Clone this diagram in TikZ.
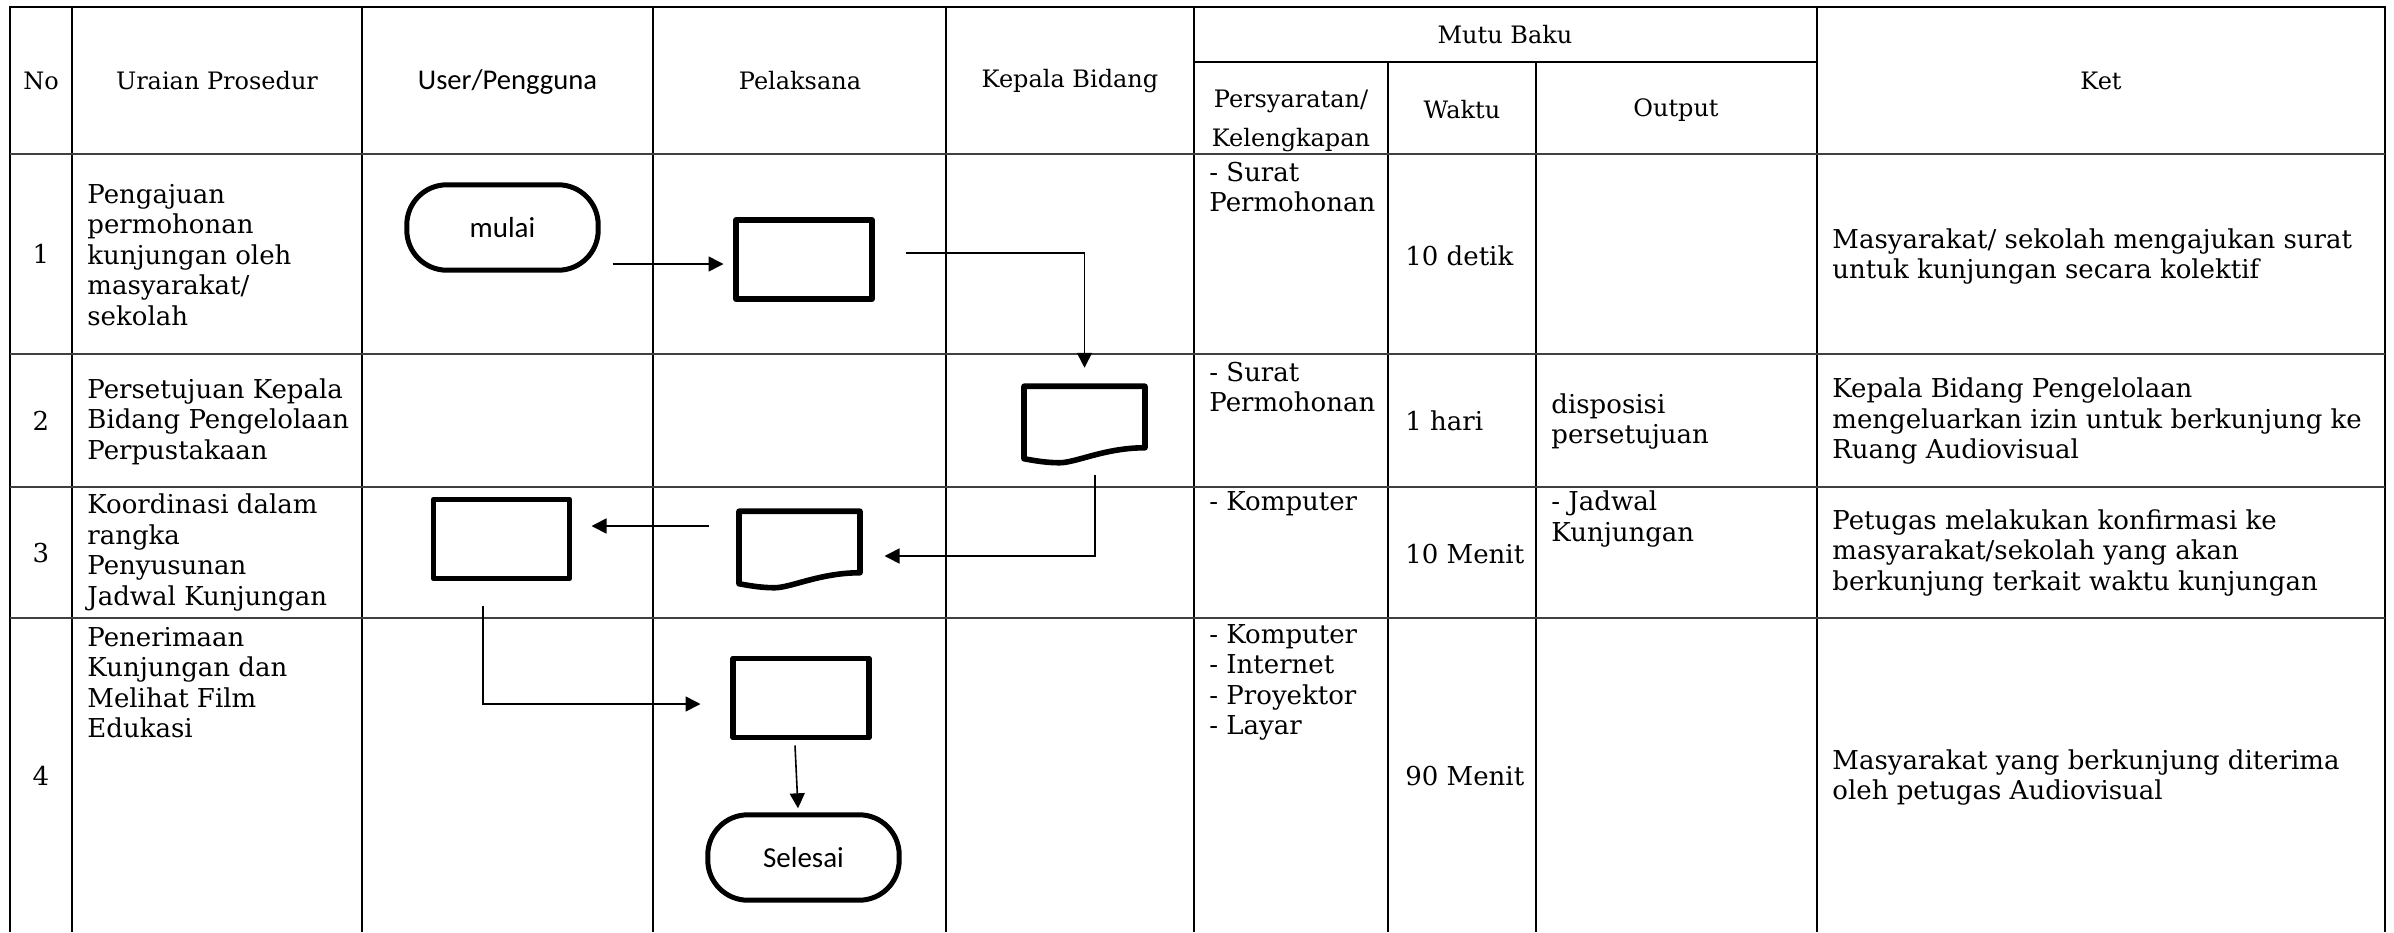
\documentclass[tikz,border=0pt]{standalone}
\usepackage{fontspec}
\setmainfont{DejaVu Serif}
\newfontfamily\flowfont{Carlito}
\usepackage{tikz}
\usetikzlibrary{positioning,arrows.meta}

% document symbol drawn round an empty node
\newcommand{\docshape}[1]{%
  \draw[line width=2.8pt, line join=round] (#1.north west) -- (#1.north east) -- (#1.south east)
    .. controls ([xshift=-20pt]#1.south east) and ([xshift=26pt,yshift=-7.5pt]#1.south west) .. ([xshift=17.75pt,yshift=-7.5pt]#1.south west)
    .. controls ([xshift=10pt,yshift=-7.5pt]#1.south west) and ([xshift=3pt,yshift=-6pt]#1.south west) .. ([yshift=-5.5pt]#1.south west) -- cycle;}

\begin{document}
\begin{tikzpicture}[x=0.5pt, y=-0.5pt,
    grid/.style={line width=0.75pt},
    rowline/.style={line width=1.3pt, black!75},
    head/.style={font=\fontsize{12}{14}\selectfont, align=center, inner sep=0pt},
    cell/.style={font=\fontsize{13}{15.25}\selectfont, align=left, anchor=west, inner sep=0pt},
    procbox/.style={rectangle, draw, line width=2.8pt, line join=round, minimum width=68pt, minimum height=39.5pt, inner sep=0pt, outer sep=0pt},
    docbox/.style={rectangle, minimum width=60.5pt, minimum height=30.75pt, inner sep=0pt, outer sep=0pt},
    termbox/.style={rectangle, rounded corners=20pt, draw, line width=2.5pt, minimum width=95.7pt, minimum height=42.7pt, inner sep=0pt, outer sep=0pt, font=\flowfont\fontsize{14.5}{17}\selectfont},
    arr/.style={-{Triangle[length=7.5pt,width=7.5pt]}, line width=0.8pt}]

    \useasboundingbox (0,0) rectangle (2394,932);

    % table
    \draw[line width=1pt] (10,932) -- (10,7) -- (2385,7) -- (2385,932);
    \foreach \x in {72,362,653,946,1194,1817}
        \draw[grid] (\x,7) -- (\x,932);
    \foreach \x in {1388,1536}
        \draw[grid] (\x,62) -- (\x,932);
    \draw[grid] (1194,62) -- (1817,62);
    \foreach \y in {154,354,487,618}
        \draw[rowline] (10,\y) -- (2385,\y);

    % header
    \node[head] (hNo) at (41,81) {No};
    \node[head] (hUraian) at (217,81) {Uraian Prosedur};
    \node[head, font=\flowfont\fontsize{14.3}{16}\selectfont] (hUser) at (507.5,82) {User/Pengguna};
    \node[head] (hPelaksana) at (800,81) {Pelaksana};
    \node[head] (hKabid) at (1070,81) {Kepala Bidang};
    \node[head] (hMutu) at (1505,35) {Mutu Baku};
    \node[head, font=\fontsize{12}{19.5}\selectfont] (hSyarat) at (1291,120.5) {Persyaratan/\\Kelengkapan};
    \node[head] (hWaktu) at (1462,110) {Waktu};
    \node[head] (hOutput) at (1676,110) {Output};
    \node[head] (hKet) at (2101,81) {Ket};

    % row numbers
    \node[cell, anchor=center] (n1) at (41,254) {1};
    \node[cell, anchor=center] (n2) at (41,421) {2};
    \node[cell, anchor=center] (n3) at (41,553) {3};
    \node[cell, anchor=center] (n4) at (41,776) {4};

    % uraian prosedur
    \node[cell] (u1) at (87,255) {Pengajuan\\permohonan\\kunjungan oleh\\masyarakat/\\sekolah};
    \node[cell] (u2) at (87,421.5) {Persetujuan Kepala\\Bidang Pengelolaan\\Perpustakaan};
    \node[cell] (u3) at (87,552.5) {Koordinasi dalam\\rangka\\Penyusunan\\Jadwal Kunjungan};
    \node[cell] (u4) at (87,682.5) {Penerimaan\\Kunjungan dan\\Melihat Film\\Edukasi};

    % mutu baku
    \node[cell] (s1) at (1209,187) {- Surat\\Permohonan};
    \node[cell] (s2) at (1209,387) {- Surat\\Permohonan};
    \node[cell] (s3) at (1209,504) {- Komputer};
    \node[cell] (s4) at (1209,682.5) {- Komputer\\- Internet\\- Proyektor\\- Layar};
    \node[cell] (w1) at (1405,256) {10 detik};
    \node[cell] (w2) at (1405,421) {1 hari};
    \node[cell] (w3) at (1405,554) {10 Menit};
    \node[cell] (w4) at (1405,776) {90 Menit};
    \node[cell] (o2) at (1551,421.5) {disposisi\\persetujuan};
    \node[cell] (o3) at (1551,519) {- Jadwal\\Kunjungan};

    % ket
    \node[cell] (k1) at (1832,256.5) {Masyarakat/ sekolah mengajukan surat\\untuk kunjungan secara kolektif};
    \node[cell] (k2) at (1832,421.5) {Kepala Bidang Pengelolaan\\mengeluarkan izin untuk berkunjung ke\\Ruang Audiovisual};
    \node[cell] (k3) at (1832,553) {Petugas melakukan konfirmasi ke\\masyarakat/sekolah yang akan\\berkunjung terkait waktu kunjungan};
    \node[cell] (k4) at (1832,777.5) {Masyarakat yang berkunjung diterima\\oleh petugas Audiovisual};

    % flow
    \node[termbox] (mulai) at (502.5,227.5) {mulai};
    \node[procbox] (p1) at (804,259.5) {};
    \node[docbox] (d1) at (1084.5,417) {};
    \docshape{d1}
    \node[procbox] (p3) at (501.5,539) {};
    \node[docbox] (d2) at (799.5,542) {};
    \docshape{d2}
    \node[procbox] (p4) at (801,698) {};
    \node[termbox] (selesai) at (803.5,857.5) {Selesai};

    \draw[arr] ([shift={(14.5,36.5)}]mulai.east) -- ([shift={(-12.5,4.5)}]p1.west);
    \draw[arr] ([shift={(33.5,-6.5)}]p1.east) -| ([shift={(0,-18.5)}]d1.north);
    \draw[arr] ([shift={(10.5,27)}]d1.south) |- ([shift={(24.5,14)}]d2.east);
    \draw[arr] ([shift={(-30.5,-16)}]d2.west) -- ([shift={(22,-13)}]p3.east);
    \draw[arr] ([shift={(-18.5,27)}]p3.south) |- ([shift={(-32.5,6)}]p4.west);
    \draw[arr] ([shift={(-6,8)}]p4.south) -- ([shift={(-5.5,-6.5)}]selesai.north);

\end{tikzpicture}
\end{document}
